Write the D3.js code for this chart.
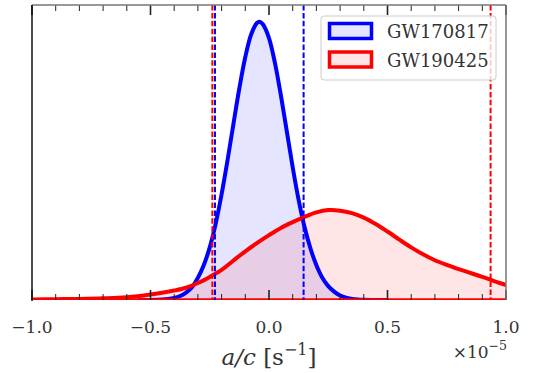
<!DOCTYPE html>
<html><head><meta charset="utf-8">
<script src="https://cdn.jsdelivr.net/npm/d3@7"></script>
<style>body{margin:0;background:#fff}svg{display:block}</style>
</head><body>
<script>
// ---- data (a/c in units of 1e-5 s^-1, densities relative to GW170817 peak) ----
const xBlue = [-0.55,-0.5,-0.45,-0.425,-0.4,-0.375,-0.35,-0.325,-0.3,-0.275,-0.25,-0.225,-0.2,-0.175,-0.15,-0.125,-0.1,-0.075,-0.05,-0.04,-0.025,0.0,0.025,0.05,0.075,0.1,0.125,0.15,0.175,0.2,0.225,0.25,0.275,0.3,0.325,0.35,0.375,0.4,0.45,0.5];
const yBlue = [0.0,0.0003,0.0017,0.0036,0.0074,0.0144,0.0265,0.046,0.08,0.126,0.189,0.274,0.38,0.502,0.633,0.761,0.873,0.955,0.996,1.0,0.99,0.941,0.852,0.736,0.607,0.477,0.36,0.262,0.185,0.125,0.08,0.05,0.03,0.016,0.008,0.004,0.002,0.001,0.0003,0.0];
const xRed = [-1.0,-0.9,-0.8,-0.7,-0.6,-0.5,-0.4,-0.35,-0.3,-0.25,-0.2,-0.15,-0.1,-0.05,0.0,0.05,0.1,0.15,0.2,0.25,0.3,0.35,0.4,0.45,0.5,0.55,0.6,0.65,0.7,0.75,0.8,0.85,0.9,0.95,1.0];
const yRed = [0.002,0.003,0.004,0.006,0.01,0.02,0.034,0.044,0.061,0.083,0.108,0.142,0.175,0.205,0.233,0.259,0.28,0.299,0.315,0.323,0.321,0.312,0.296,0.273,0.246,0.217,0.189,0.164,0.143,0.126,0.111,0.097,0.083,0.068,0.054];
const ciBlue = [-0.228, 0.146];
const ciRed = [-0.239, 0.935];
const seriesNames = ["GW170817", "GW190425"];
const majorTicks = [-1.0, -0.5, 0.0, 0.5, 1.0];
const tickLabels = ["\u22121.0", "\u22120.5", "0.0", "0.5", "1.0"];
const minorTicks = d3.range(-10, 11).map(d => d / 10);

// ---- layout ----
const W = 533, H = 373;
const L = 32, R = 506, T = 5, B = 300;
const BLUE = "#0000ff", RED = "#ff0000";
const FONT = "DejaVu Serif";

const svg = d3.select("body").append("svg").attr("width", W).attr("height", H);

const x = d3.scaleLinear().domain([-1, 1]).range([L, R]);
const y = d3.scaleLinear().domain([0, 1.06]).range([B, T]);

svg.append("clipPath").attr("id", "clip").append("rect")
  .attr("x", L).attr("y", T).attr("width", R - L).attr("height", B - T);
const g = svg.append("g").attr("clip-path", "url(#clip)");

const blue = xBlue.map((v, i) => [v, yBlue[i]]);
const red = xRed.map((v, i) => [v, yRed[i]]);

const area = d3.area().x(d => x(d[0])).y0(y(0)).y1(d => y(d[1])).curve(d3.curveCatmullRom.alpha(0.5));
const line = d3.line().x(d => x(d[0])).y(d => y(d[1])).curve(d3.curveCatmullRom.alpha(0.5));

g.append("path").attr("d", area(blue)).attr("fill", BLUE).attr("fill-opacity", 0.1);
g.append("path").attr("d", area(red)).attr("fill", RED).attr("fill-opacity", 0.1);
g.append("path").attr("d", line(blue)).attr("fill", "none").attr("stroke", BLUE).attr("stroke-width", 4).attr("stroke-linejoin", "round");
g.append("path").attr("d", line(red)).attr("fill", "none").attr("stroke", RED).attr("stroke-width", 4).attr("stroke-linejoin", "round");
g.append("line").attr("x1", x(-1)).attr("x2", x(1)).attr("y1", y(0) - 0.5).attr("y2", y(0) - 0.5)
  .attr("stroke", RED).attr("stroke-width", 2.5);

[[ciRed, RED], [ciBlue, BLUE]].forEach(([ci, c]) => {
  ci.forEach(v => {
    g.append("line").attr("x1", x(v)).attr("x2", x(v)).attr("y1", T).attr("y2", B)
      .attr("stroke", c).attr("stroke-width", 2).attr("stroke-dasharray", "5.5,2.4");
  });
});

const tk = svg.append("g");
minorTicks.forEach(v => {
  const major = majorTicks.some(m => Math.abs(m - v) < 1e-9);
  const len = major ? 10 : 6;
  const sw = major ? 1.6 : 1;
  tk.append("line").attr("x1", x(v)).attr("x2", x(v)).attr("y1", B).attr("y2", B - len).attr("stroke", "#222").attr("stroke-width", sw);
  tk.append("line").attr("x1", x(v)).attr("x2", x(v)).attr("y1", T).attr("y2", T + len).attr("stroke", "#222").attr("stroke-width", sw);
});

svg.append("line").attr("x1", L).attr("x2", R).attr("y1", T).attr("y2", T).attr("stroke", "#777").attr("stroke-width", 1.5);
svg.append("line").attr("x1", R).attr("x2", R).attr("y1", T).attr("y2", B).attr("stroke", "#777").attr("stroke-width", 1.5);
svg.append("line").attr("x1", L).attr("x2", L).attr("y1", T).attr("y2", B + 1).attr("stroke", "#111").attr("stroke-width", 1.5);

majorTicks.forEach((v, i) => {
  svg.append("text").attr("x", x(v)).attr("y", 333).attr("text-anchor", "middle")
    .style("font-family", FONT).style("font-size", "17px").attr("fill", "#333").text(tickLabels[i]);
});

const xl = svg.append("text").attr("x", x(0)).attr("y", 365).attr("text-anchor", "middle")
  .style("font-family", FONT).style("font-size", "23px").attr("fill", "#333");
xl.append("tspan").style("font-style", "italic").text("a/c");
xl.append("tspan").text(" [s");
xl.append("tspan").style("font-size", "16px").attr("dy", -10).text("\u22121");
xl.append("tspan").attr("dy", 10).text("]");

const off = svg.append("text").attr("x", R + 1).attr("y", 358).attr("text-anchor", "end")
  .style("font-family", FONT).style("font-size", "17px").attr("fill", "#333");
off.append("tspan").text("\u00d710");
off.append("tspan").style("font-size", "12.5px").attr("dy", -8).text("\u22125");

const lg = svg.append("g");
lg.append("rect").attr("x", 321).attr("y", 16).attr("width", 175).attr("height", 64).attr("rx", 3)
  .attr("fill", "#fff").attr("fill-opacity", 0.8).attr("stroke", "#ccc").attr("stroke-width", 1);
[[BLUE, 31], [RED, 59.5]].forEach(([c, cy], i) => {
  lg.append("rect").attr("x", 329.5).attr("y", cy - 7.5).attr("width", 42).attr("height", 15)
    .attr("fill", "#fff").attr("stroke", "none");
  lg.append("rect").attr("x", 329.5).attr("y", cy - 7.5).attr("width", 42).attr("height", 15)
    .attr("fill", c).attr("fill-opacity", 0.1).attr("stroke", c).attr("stroke-width", 3.5);
  lg.append("text").attr("x", 387).attr("y", cy + 7).style("font-family", FONT).style("font-size", "18px")
    .attr("fill", "#333").text(seriesNames[i]);
});
</script>
</body></html>
